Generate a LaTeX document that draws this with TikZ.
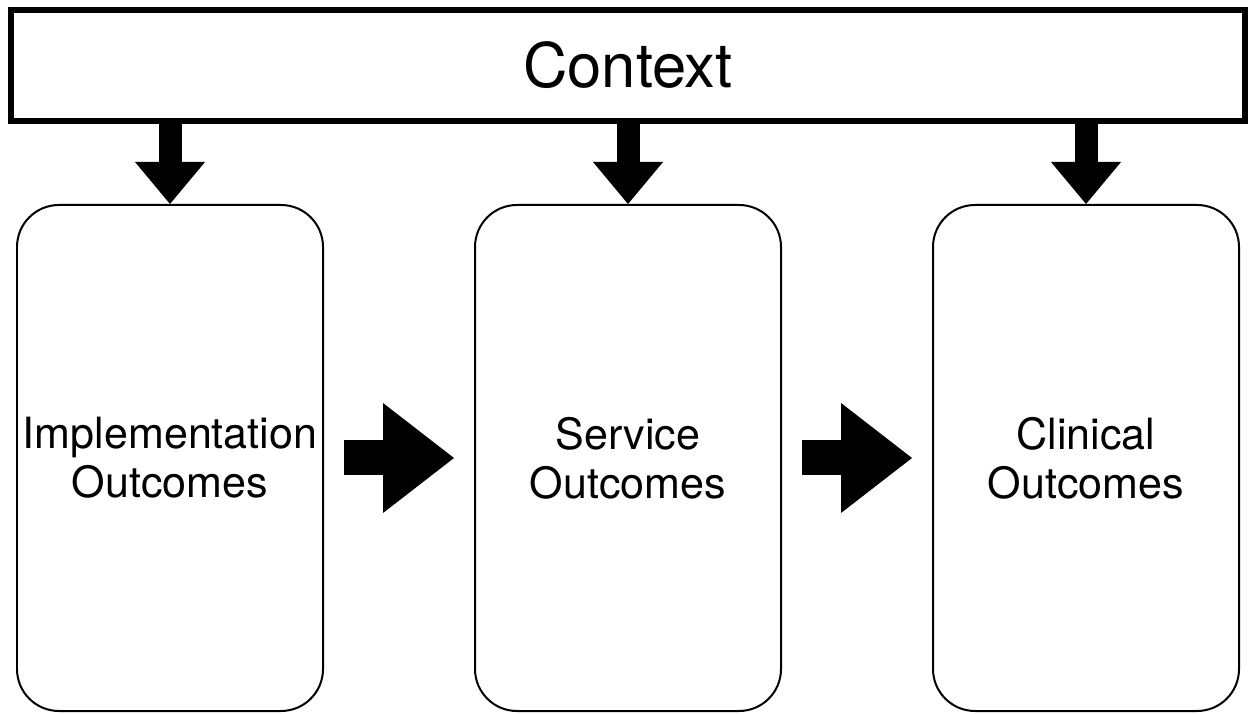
\documentclass[tikz,border=0pt]{standalone}
\usepackage{fontspec}
\setmainfont{TeX Gyre Heros}
\usetikzlibrary{arrows.meta}

\begin{document}
\begin{tikzpicture}[auto, font = \fontsize{24.5}{28}\selectfont]
    \tikzset{
      context/.style = {draw, line width = 0.12cm, minimum width = 24.68cm, minimum height = 2.22cm, font = \fontsize{35}{40}\selectfont},
      outcome/.style = {draw, line width = 0.04cm, rounded corners = 0.84cm, minimum width = 6.12cm, minimum height = 10.12cm, align = center, inner sep = 0pt},
      downarrow/.style = {line width = 0.46cm, -{Triangle[width = 1.4cm, length = 0.84cm, line width = 0pt]}},
      rightarrow/.style = {line width = 0.70cm, -{Triangle[width = 2.2cm, length = 1.42cm, line width = 0pt]}, shorten < = 0.4cm, shorten > = 0.4cm},
    }
    \useasboundingbox (0, 0) rectangle (25.12, 14.26);

    \node [context] (context) at (12.56, 12.95) {Context};

    \node [outcome] (impl) at (3.40, 5.10) {Implementation\\Outcomes};
    \node [outcome] (service) at (12.56, 5.10) {Service\\Outcomes};
    \node [outcome] (clinical) at (21.72, 5.10) {Clinical\\Outcomes};

    \draw [downarrow] (context.south -| impl.north) -- (impl.north);
    \draw [downarrow] (context.south -| service.north) -- (service.north);
    \draw [downarrow] (context.south -| clinical.north) -- (clinical.north);

    \draw [rightarrow] (impl) -- (service);
    \draw [rightarrow] (service) -- (clinical);
  \end{tikzpicture}
\end{document}
